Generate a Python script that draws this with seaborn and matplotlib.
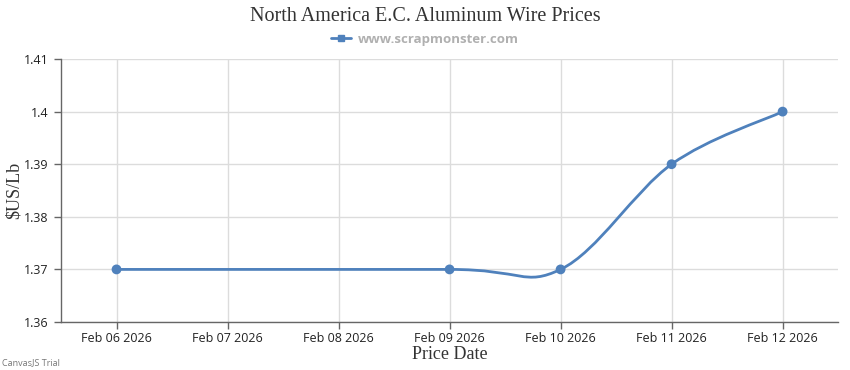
import numpy as np
import pandas as pd
import seaborn as sns
import matplotlib.pyplot as plt
from matplotlib.path import Path
from matplotlib.patches import PathPatch
from matplotlib.lines import Line2D

# data
dates = ['2026-02-06', '2026-02-09', '2026-02-10', '2026-02-11', '2026-02-12']
prices = [1.37, 1.37, 1.37, 1.39, 1.40]
tick_days = ['2026-02-06', '2026-02-07', '2026-02-08', '2026-02-09',
             '2026-02-10', '2026-02-11', '2026-02-12']
y_ticks = [1.36, 1.37, 1.38, 1.39, 1.40, 1.41]

df = pd.DataFrame({'date': pd.to_datetime(dates), 'price': prices})
t0 = pd.Timestamp(tick_days[0])
df['day'] = (df['date'] - t0).dt.days
tick_pos = [(pd.Timestamp(d) - t0).days for d in tick_days]
tick_lbl = [pd.Timestamp(d).strftime('%b %d %Y') for d in tick_days]

blue = '#4F81BC'
sns.set_style('white')
plt.rcParams['font.family'] = ['Open Sans', 'DejaVu Sans']

fig = plt.figure(figsize=(8.5, 3.7), dpi=100)
ax = fig.add_axes([0.0718, 0.1297, 0.9142, 0.7108])

# spline like CanvasJS (cardinal, tension 2)
px = df['day'].to_numpy(float)
py = df['price'].to_numpy(float)
n = len(px)
verts = [(px[0], py[0])]
codes = [Path.MOVETO]
for i in range(1, n):
    a = i - 1
    i1 = 0 if a == 0 else a - 1
    i2 = a if a == n - 1 else a + 1
    c1 = (px[a] + (px[i2] - px[i1]) / 6, py[a] + (py[i2] - py[i1]) / 6)
    b = i
    j1 = 0 if b == 0 else b - 1
    j2 = b if b == n - 1 else b + 1
    c2 = (px[b] - (px[j2] - px[j1]) / 6, py[b] - (py[j2] - py[j1]) / 6)
    verts += [c1, c2, (px[b], py[b])]
    codes += [Path.CURVE4] * 3
ax.add_patch(PathPatch(Path(verts, codes), fill=False, edgecolor=blue, lw=2, zorder=3))

sns.scatterplot(data=df, x='day', y='price', color=blue, s=50, edgecolor='none',
                zorder=4, ax=ax)

ax.set_xlim(-0.5, 6.5)
ax.set_ylim(1.36, 1.41)
ax.set_xticks(tick_pos)
ax.set_xticklabels(tick_lbl)
ax.set_yticks(y_ticks)
ax.set_yticklabels(['%g' % v for v in y_ticks])
ax.grid(True, color='#dcdcdc', lw=1)
ax.set_axisbelow(True)
for s in ['top', 'right']:
    ax.spines[s].set_visible(False)
for s in ['left', 'bottom']:
    ax.spines[s].set_color('#666666')
    ax.spines[s].set_linewidth(1)
ax.tick_params(axis='both', length=5, width=1, color='#666666', labelsize=9,
               labelcolor='#222222', pad=4, direction='out', left=True, bottom=True)
ax.tick_params(axis='x', pad=2)

ax.set_xlabel('Price Date', family='Liberation Serif', fontsize=13, color='#333333')
ax.set_ylabel(r'\$US/Lb', family='Liberation Serif', fontsize=13, color='#333333')
ax.xaxis.set_label_coords(0.5, -0.092)
ax.yaxis.set_label_coords(-0.049, 0.5)

fig.text(0.5, 0.955, 'North America E.C. Aluminum Wire Prices', ha='center', va='center',
         family='Liberation Serif', fontsize=14.5, color='#333333')
handle = Line2D([], [], color=blue, lw=2, marker='s', markersize=5)
fig.legend([handle], ['www.scrapmonster.com'], loc='center', bbox_to_anchor=(0.5, 0.893),
           frameon=False, handlelength=1.5, handletextpad=0.5,
           prop={'family': 'Open Sans', 'weight': 'bold', 'size': 9.5},
           labelcolor='#b0b0b0')
fig.text(0.002, 0.02, 'CanvasJS Trial', ha='left', va='center', fontsize=6.5, color='#777777')

fig.savefig('out.png', dpi=100)
